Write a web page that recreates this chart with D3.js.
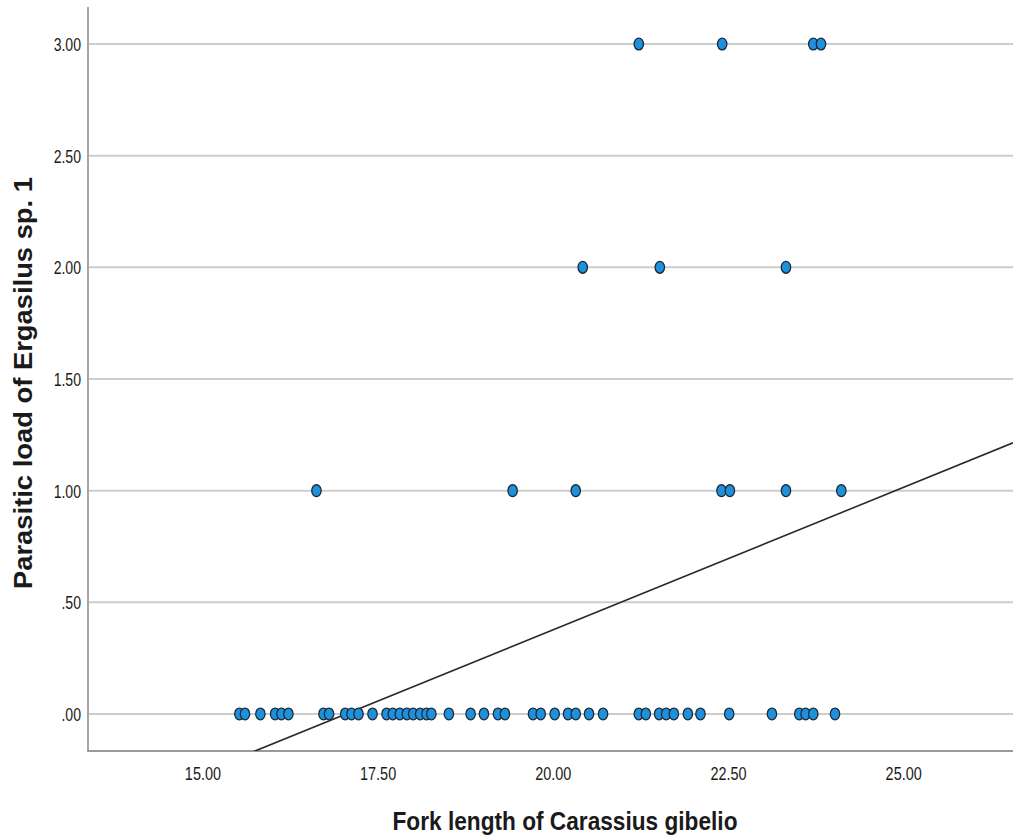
<!DOCTYPE html>
<html>
<head>
  <meta charset="utf-8">
  <script src="https://d3js.org/d3.v7.min.js"></script>
  <style>
    body { margin: 0; background: #fff; }
    text { font-family: "Liberation Sans", Arial, sans-serif; fill: #1a1a1a; }
  </style>
</head>
<body>
<script>
// fork length of each fish, grouped by how many Ergasilus sp. 1 it carried
var lengthsLoad0 = [15.52, 15.60, 15.82, 16.03, 16.12, 16.22, 16.72, 16.80, 17.03, 17.12,
                    17.22, 17.42, 17.62, 17.71, 17.81, 17.91, 18.00, 18.10, 18.19, 18.26,
                    18.51, 18.82, 19.01, 19.21, 19.31, 19.71, 19.82, 20.02, 20.21, 20.32,
                    20.51, 20.71, 21.22, 21.32, 21.51, 21.61, 21.72, 21.92, 22.10, 22.51,
                    23.12, 23.51, 23.60, 23.71, 24.02];
var lengthsLoad1 = [16.62, 19.42, 20.32, 22.40, 22.52, 23.32, 24.11];
var lengthsLoad2 = [20.42, 21.52, 23.32];
var lengthsLoad3 = [21.22, 22.41, 23.71, 23.82];
var loadLevels = [0, 1, 2, 3];

var xTicks = [15, 17.5, 20, 22.5, 25];
var yTicks = [0, 0.5, 1, 1.5, 2, 2.5, 3];

// linear fit line as drawn in the output
var fitSlope = 0.1276,
    fitIntercept = -2.175;

var width = 1013, height = 839;
var plotLeft = 88, plotTop = 7, plotBottom = 751;

var x = d3.scaleLinear().domain([13.36, 26.56]).range([plotLeft, width]);
var y = d3.scaleLinear().domain([-0.166, 3.166]).range([plotBottom, plotTop]);

var points = [];
[lengthsLoad0, lengthsLoad1, lengthsLoad2, lengthsLoad3].forEach(function(arr, i) {
  arr.forEach(function(v) { points.push({ len: v, load: loadLevels[i] }); });
});

var svg = d3.select("body").append("svg")
    .attr("width", width)
    .attr("height", height);

// squeeze text along its own direction, the output uses a narrow face
function squeeze(sel, k) {
  sel.each(function() {
    var n = this.getComputedTextLength();
    d3.select(this).attr("textLength", n * k).attr("lengthAdjust", "spacingAndGlyphs");
  });
}

svg.append("clipPath").attr("id", "plot")
  .append("rect")
    .attr("x", plotLeft).attr("y", plotTop)
    .attr("width", width - plotLeft).attr("height", plotBottom - plotTop);

// gridlines
svg.append("g").selectAll("line")
  .data(yTicks)
  .enter().append("line")
    .attr("x1", plotLeft).attr("x2", width)
    .attr("y1", function(d) { return y(d); })
    .attr("y2", function(d) { return y(d); })
    .style("stroke", "#cdcdcd")
    .style("stroke-width", 2);

// axis lines
svg.append("line")
    .attr("x1", plotLeft).attr("x2", plotLeft)
    .attr("y1", plotTop).attr("y2", plotBottom)
    .style("stroke", "#a6a6a6").style("stroke-width", 2);
svg.append("line")
    .attr("x1", plotLeft - 1).attr("x2", width)
    .attr("y1", plotBottom).attr("y2", plotBottom)
    .style("stroke", "#9a9a9a").style("stroke-width", 2);

var fmtY = function(d) { return d3.format(".2f")(d).replace(/^0\./, "."); };

svg.append("g").selectAll("text")
  .data(yTicks)
  .enter().append("text")
    .attr("x", plotLeft - 7)
    .attr("y", function(d) { return y(d) + 7; })
    .attr("text-anchor", "end")
    .style("font-size", "19px")
    .text(fmtY)
    .call(squeeze, 0.74);

svg.append("g").selectAll("text")
  .data(xTicks)
  .enter().append("text")
    .attr("x", function(d) { return x(d); })
    .attr("y", 780)
    .attr("text-anchor", "middle")
    .style("font-size", "19px")
    .text(d3.format(".2f"))
    .call(squeeze, 0.76);

// fit line
var xd = x.domain();
svg.append("line")
    .attr("clip-path", "url(#plot)")
    .attr("x1", x(xd[0])).attr("y1", y(fitIntercept + fitSlope * xd[0]))
    .attr("x2", x(xd[1])).attr("y2", y(fitIntercept + fitSlope * xd[1]))
    .style("stroke", "#2a2a2a")
    .style("stroke-width", 1.6);

// points
svg.append("g").selectAll("ellipse")
  .data(points)
  .enter().append("ellipse")
    .attr("cx", function(d) { return x(d.len); })
    .attr("cy", function(d) { return y(d.load); })
    .attr("rx", 4.7)
    .attr("ry", 5.9)
    .style("fill", "#1e90dc")
    .style("stroke", "#1c2a38")
    .style("stroke-width", 1.3);

// axis titles
svg.append("text")
    .attr("x", 565)
    .attr("y", 830)
    .attr("text-anchor", "middle")
    .attr("textLength", 345)
    .attr("lengthAdjust", "spacingAndGlyphs")
    .style("font-size", "26px")
    .style("font-weight", "bold")
    .text("Fork length of Carassius gibelio");

svg.append("text")
    .attr("transform", "translate(32," + 383 + ") rotate(-90)")
    .attr("text-anchor", "middle")
    .attr("textLength", 412)
    .attr("lengthAdjust", "spacingAndGlyphs")
    .style("font-size", "26px")
    .style("font-weight", "bold")
    .text("Parasitic load of Ergasilus sp. 1");
</script>
</body>
</html>
